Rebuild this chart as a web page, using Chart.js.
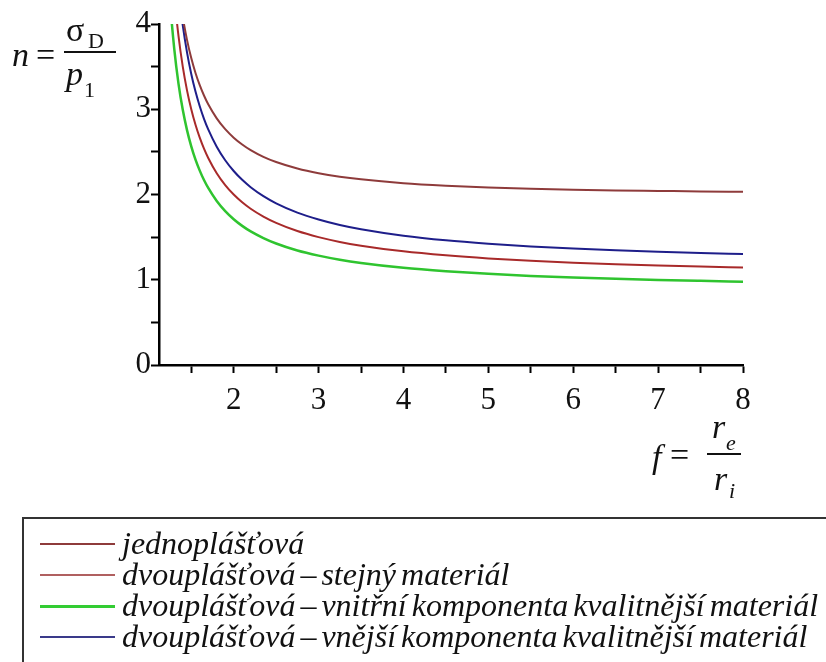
<!DOCTYPE html>
<html>
<head>
<meta charset="utf-8">
<script src="https://cdn.jsdelivr.net/npm/chart.js@4.4.1/dist/chart.umd.min.js"></script>
<style>
  body { margin:0; background:#fff; }
  #wrap { position:relative; width:826px; height:662px; overflow:hidden; font-family:"Liberation Serif", "Times New Roman", Tinos, "DejaVu Serif", "Noto Serif", serif; }
  #myChart { position:absolute; left:0; top:0; }
  .m { position:absolute; line-height:1; white-space:nowrap; color:#111; }
  .it { font-style:italic; }
  .bar { position:absolute; height:2px; background:#111; }
  #legend { position:absolute; left:22px; top:517px; width:840px; height:170px; border:2px solid #333; box-sizing:border-box; }
  .lrow { position:absolute; left:0; height:31px; }
  .lline { position:absolute; left:16px; width:75px; }
  .ltext { position:absolute; left:98px; top:-1px; font-size:32px; word-spacing:-3px; font-style:italic; line-height:31px; white-space:nowrap; color:#111; }
</style>
</head>
<body>
<div id="wrap">
  <canvas id="myChart" width="826" height="662"></canvas>

  <!-- n = sigma_D / p_1 -->
  <span class="m it" style="left:12px; top:38px; font-size:34px;">n</span>
  <span class="m" style="left:36px; top:38px; font-size:34px;">=</span>
  <span class="m" style="left:66px; top:13px; font-size:34px;">σ</span>
  <span class="m" style="left:88px; top:30px; font-size:22px;">D</span>
  <div class="bar" style="left:64px; top:51px; width:52px;"></div>
  <span class="m it" style="left:66px; top:57px; font-size:34px;">p</span>
  <span class="m" style="left:84px; top:79px; font-size:22px;">1</span>

  <!-- f = r_e / r_i -->
  <span class="m it" style="left:652px; top:440px; font-size:34px;">f</span>
  <span class="m" style="left:670px; top:438px; font-size:34px;">=</span>
  <span class="m it" style="left:712px; top:410px; font-size:34px;">r</span>
  <span class="m it" style="left:726px; top:432px; font-size:22px;">e</span>
  <div class="bar" style="left:707px; top:453px; width:34px;"></div>
  <span class="m it" style="left:714px; top:462px; font-size:34px;">r</span>
  <span class="m it" style="left:729px; top:480px; font-size:22px;">i</span>

  <div id="legend"></div>
</div>

<script>
// pomer polomeru f = re/ri
const fVals = [1.2, 1.25, 1.3, 1.35, 1.4, 1.45, 1.5, 1.55, 1.6, 1.65, 1.7, 1.8, 1.9, 2, 2.1, 2.2, 2.35, 2.5, 2.75, 3, 3.25, 3.5, 4, 4.5, 5, 5.5, 6, 6.5, 7, 7.5, 8];

// bezpecnost n = sigmaD / p1
const jednoplastova = [6.545, 5.556, 4.899, 4.432, 4.083, 3.814, 3.600, 3.426, 3.282, 3.161, 3.058, 2.893, 2.766, 2.667, 2.587, 2.521, 2.442, 2.381, 2.305, 2.250, 2.209, 2.178, 2.133, 2.104, 2.083, 2.068, 2.057, 2.048, 2.042, 2.036, 2.032];
const stejnyMaterial = [6.000, 5.000, 4.333, 3.857, 3.500, 3.222, 3.000, 2.818, 2.667, 2.538, 2.429, 2.250, 2.111, 2.000, 1.909, 1.833, 1.741, 1.667, 1.571, 1.500, 1.444, 1.400, 1.333, 1.286, 1.250, 1.222, 1.200, 1.182, 1.167, 1.154, 1.143];
const vnitrniLepsi = [5.130, 4.275, 3.705, 3.298, 2.993, 2.755, 2.565, 2.409, 2.280, 2.170, 2.077, 1.924, 1.805, 1.710, 1.632, 1.567, 1.489, 1.425, 1.343, 1.283, 1.235, 1.197, 1.140, 1.100, 1.069, 1.045, 1.026, 1.011, 0.998, 0.987, 0.977];
const vnejsiLepsi = [6.828, 5.690, 4.931, 4.389, 3.983, 3.667, 3.414, 3.207, 3.035, 2.888, 2.764, 2.561, 2.402, 2.276, 2.172, 2.086, 1.981, 1.897, 1.788, 1.707, 1.643, 1.593, 1.517, 1.463, 1.423, 1.391, 1.366, 1.345, 1.328, 1.313, 1.301];

const xTicks = [1.5, 2, 2.5, 3, 3.5, 4, 4.5, 5, 5.5, 6, 6.5, 7, 7.5, 8];
const yTicks = [0, 0.5, 1, 1.5, 2, 2.5, 3, 3.5, 4];

const labels = [
  'jednoplášťová',
  'dvouplášťová – stejný materiál',
  'dvouplášťová – vnitřní komponenta kvalitnější materiál',
  'dvouplášťová – vnější komponenta kvalitnější materiál'
];
const series = [jednoplastova, stejnyMaterial, vnitrniLepsi, vnejsiLepsi];
const colors = ['#8e3b3b', '#a82a2a', '#2fc42f', '#1e1e8a'];
const widths = [2, 2, 2.5, 2];
const legendColors = ['#8e3b3b', '#b06060', '#33cc33', '#3a3a8a'];
const legendWidths = [2, 1.5, 3, 1.5];

const serifFont = '"Liberation Serif", "Times New Roman", Tinos, "DejaVu Serif", serif';

let myChart = document.getElementById("myChart").getContext('2d');

let lineChart = new Chart(myChart, {
    type: 'line',
    data: {
        datasets: series.map((s, i) => ({
            label: labels[i],
            data: fVals.map((f, j) => ({x: f, y: s[j]})),
            borderColor: colors[i],
            borderWidth: widths[i],
            pointRadius: 0,
            cubicInterpolationMode: 'monotone',
            fill: false
        }))
    },
    options: {
        responsive: false,
        animation: false,
        layout: {
            padding: {left: 0, top: 24, right: 83, bottom: 237}
        },
        plugins: {
            legend: {display: false},
            tooltip: {enabled: false}
        },
        scales: {
            x: {
                type: 'linear',
                min: 1.12,
                max: 8,
                afterBuildTicks: sc => { sc.ticks = xTicks.map(v => ({value: v})); },
                afterFit: sc => { sc.height = 60; },
                border: {display: true, color: '#000', width: 2.5},
                grid: {drawOnChartArea: false, drawTicks: true, tickLength: 8, tickColor: '#000', tickWidth: 2},
                ticks: {
                    color: '#111',
                    padding: 9,
                    maxRotation: 0,
                    autoSkip: false,
                    font: {family: serifFont, size: 31},
                    callback: v => Number.isInteger(v) ? v : ''
                }
            },
            y: {
                min: 0,
                max: 4,
                afterBuildTicks: sc => { sc.ticks = yTicks.map(v => ({value: v})); },
                afterFit: sc => { sc.width = 159; },
                border: {display: true, color: '#000', width: 2.5},
                grid: {drawOnChartArea: false, drawTicks: true, tickLength: 8, tickColor: '#000', tickWidth: 2},
                ticks: {
                    color: '#111',
                    padding: 0,
                    autoSkip: false,
                    font: {family: serifFont, size: 31},
                    callback: v => Number.isInteger(v) ? v : ''
                }
            }
        }
    }
});

// legenda v ramecku pod grafem
const legend = document.getElementById('legend');
labels.forEach((t, i) => {
    const row = document.createElement('div');
    row.className = 'lrow';
    row.style.top = (10 + i * 31) + 'px';
    const ln = document.createElement('div');
    ln.className = 'lline';
    ln.style.top = (15 - legendWidths[i] / 2) + 'px';
    ln.style.height = legendWidths[i] + 'px';
    ln.style.background = legendColors[i];
    const tx = document.createElement('div');
    tx.className = 'ltext';
    tx.textContent = t;
    row.appendChild(ln);
    row.appendChild(tx);
    legend.appendChild(row);
});
</script>
</body>
</html>
